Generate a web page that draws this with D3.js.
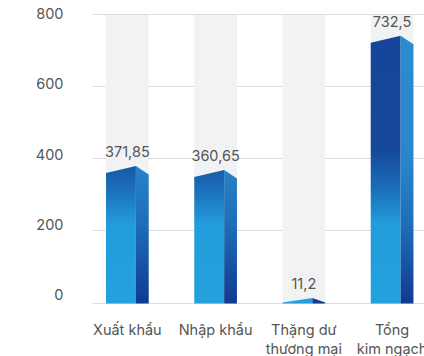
<!DOCTYPE html>
<html>
<head>
<meta charset="utf-8">
<script src="https://cdn.jsdelivr.net/npm/d3@7"></script>
<style>
  html, body { margin: 0; padding: 0; background: #ffffff; }
  svg text { font-family: Inter, "Noto Sans", sans-serif; fill: #555555; }
</style>
</head>
<body>
<svg id="chart" width="424" height="356"></svg>
<script>
// Trade figures (billion USD)
const categories = ["Xuất khẩu", "Nhập khẩu", "Thặng dư thương mại", "Tổng kim ngạch"];
const categoryLines = [["Xuất khẩu"], ["Nhập khẩu"], ["Thặng dư", "thương mại"], ["Tổng", "kim ngạch"]];
const values = [371.85, 360.65, 11.2, 732.5];
const valueLabels = ["371,85", "360,65", "11,2", "732,5"];
const yTicks = [0, 200, 400, 600, 800];

const W = 424, H = 356;
const svg = d3.select("#chart");

const y = d3.scaleLinear().domain([0, 800]).range([302.5, 14]);
// tick text sits a little above each grid line, more so near the base
const yText = d3.scaleLinear().domain([0, 800]).range([295, 13.7]);
const x = d3.scaleBand().domain(categories).range([83.25, 436.2])
  .paddingInner(0.516).paddingOuter(0.258);

const defs = svg.append("defs");
const front = defs.append("linearGradient").attr("id", "gFront")
  .attr("gradientUnits", "userSpaceOnUse").attr("x1", 0).attr("x2", 0)
  .attr("y1", y(800)).attr("y2", y(0));
[[0, "#15459a"], [0.47, "#16489b"], [0.6, "#1b6cb7"], [0.73, "#229ddb"], [1, "#23a1dd"]]
  .forEach(([o, c]) => front.append("stop").attr("offset", o).attr("stop-color", c));
const side = defs.append("linearGradient").attr("id", "gSide")
  .attr("gradientUnits", "userSpaceOnUse").attr("x1", 0).attr("x2", 0)
  .attr("y1", y(800)).attr("y2", y(0));
[[0, "#2b8dd0"], [0.5, "#2986ca"], [0.72, "#1e6fba"], [1, "#103b90"]]
  .forEach(([o, c]) => side.append("stop").attr("offset", o).attr("stop-color", c));

// horizontal grid
svg.append("g").selectAll("line").data(yTicks).join("line")
  .attr("x1", 92.7).attr("x2", W)
  .attr("y1", d => Math.round(y(d)) + 0.5).attr("y2", d => Math.round(y(d)) + 0.5)
  .attr("stroke", "#dcdcdc").attr("stroke-width", 1);

// light column behind each bar
svg.append("g").selectAll("rect").data(categories).join("rect")
  .attr("x", d => x(d)).attr("width", x.bandwidth())
  .attr("y", Math.round(y(800)) + 1).attr("height", Math.round(y(0)) - Math.round(y(800)) - 1)
  .attr("fill", "#f1f2f4");

// y tick labels
svg.append("g").selectAll("text").data(yTicks).join("text")
  .attr("x", 63.5).attr("y", d => yText(d)).attr("dy", "0.36em")
  .attr("text-anchor", "end").attr("font-size", 14.5)
  .text(d => d);

// 3D-style bars: front face with a raised right corner, narrow side face
const base = Math.round(y(0)) + 0.5;
const bars = svg.append("g").selectAll("g").data(values).join("g");
bars.each(function (v, i) {
  const g = d3.select(this);
  const x0 = x(categories[i]);
  const bw = x.bandwidth();
  const xm = x0 + bw * 0.70;
  const x1 = x0 + bw;
  const h = base - y(v);
  const peak = y(v) - Math.min(2.5, h * 0.1);
  const dl = Math.min(7, (base - peak) * 0.8);
  const dr = Math.min(8.5, (base - peak) * 0.8);
  g.append("path")
    .attr("d", `M${x0},${base}L${x0},${peak + dl}L${xm},${peak}L${xm},${base}Z`)
    .attr("fill", "url(#gFront)");
  g.append("path")
    .attr("d", `M${xm},${base}L${xm},${peak}L${x1},${peak + dr}L${x1},${base}Z`)
    .attr("fill", "url(#gSide)");
  g.append("text")
    .attr("x", x0 + bw / 2).attr("y", peak - 9)
    .attr("text-anchor", "middle").attr("font-size", 14.5)
    .text(valueLabels[i]);
});

// category labels
const cat = svg.append("g").selectAll("text").data(categories).join("text")
  .attr("x", d => x(d) + x.bandwidth() / 2).attr("y", 335)
  .attr("text-anchor", "middle").attr("font-size", 14.5);
cat.each(function (d, i) {
  const t = d3.select(this);
  categoryLines[i].forEach((line, j) => {
    t.append("tspan").attr("x", x(d) + x.bandwidth() / 2)
      .attr("y", 335 + j * 18.5).text(line);
  });
});
</script>
</body>
</html>
